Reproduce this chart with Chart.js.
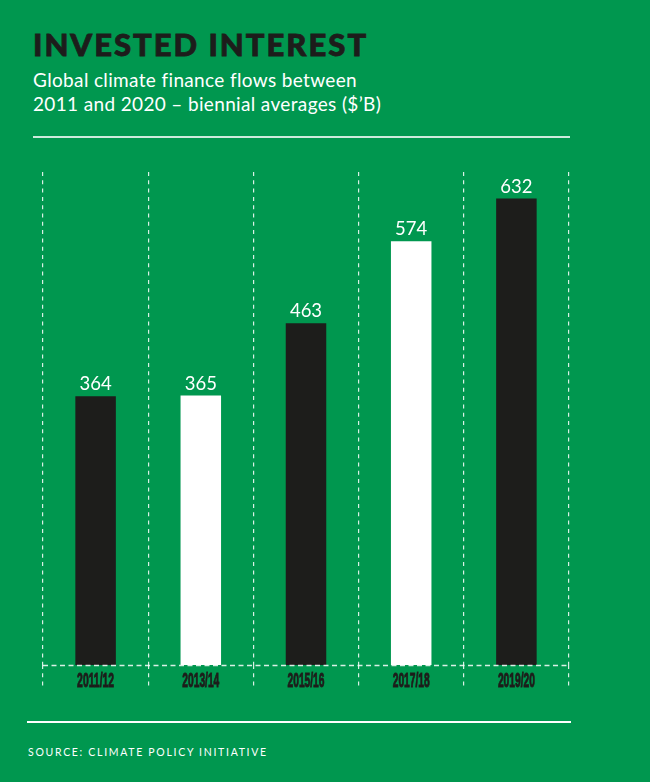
<!DOCTYPE html>
<html>
<head>
<meta charset="utf-8">
<script src="https://cdn.jsdelivr.net/npm/chart.js@4.4.1/dist/chart.umd.min.js"></script>
<style>
  html, body { margin:0; padding:0; }
  body { width:650px; height:782px; background:#00974f; position:relative; overflow:hidden; font-family: Lato, "Open Sans", sans-serif; }
  #title { position:absolute; left:33px; top:26px; font-family: Lato, sans-serif; font-weight:900; font-size:31px; color:#1d1d1b; letter-spacing:2px; line-height:36px; white-space:nowrap; -webkit-text-stroke:0.8px #1d1d1b; }
  #subtitle { position:absolute; left:33px; top:68px; font-family: Lato, sans-serif; font-weight:400; font-size:19px; color:#ffffff; line-height:24px; white-space:nowrap; letter-spacing:0.35px; }
  #rule1 { position:absolute; left:33px; top:136px; width:537px; height:1.5px; background:rgba(255,255,255,0.8); }
  #rule2 { position:absolute; left:27px; top:721px; width:544px; height:1.5px; background:#ffffff; }
  #source { position:absolute; left:28px; top:746px; font-family: Lato, sans-serif; font-size:10.5px; color:#ffffff; letter-spacing:1.7px; white-space:nowrap; }
  #wrap { position:absolute; left:0; top:150px; width:650px; height:560px; }
</style>
</head>
<body>
<div id="title">INVESTED INTEREST</div>
<div id="subtitle">Global climate finance flows between<br>2011 and 2020 – biennial averages ($’B)</div>
<div id="rule1"></div>
<div id="wrap"><canvas id="c"></canvas></div>
<div id="rule2"></div>
<div id="source">SOURCE: CLIMATE POLICY INITIATIVE</div>
<script>
const categories = ["2011/12", "2013/14", "2015/16", "2017/18", "2019/20"];
const values = [364, 365, 463, 574, 632];
const barColors = ["#1d1d1b", "#ffffff", "#1d1d1b", "#ffffff", "#1d1d1b"];
const yMax = 668;

const labelPlugin = {
  id: 'labels',
  afterDatasetsDraw(chart) {
    const ctx = chart.ctx;
    const meta = chart.getDatasetMeta(0);
    ctx.save();
    ctx.fillStyle = '#ffffff';
    ctx.font = '400 18.5px Lato, sans-serif';
    ctx.textAlign = 'center';
    ctx.textBaseline = 'alphabetic';
    meta.data.forEach((bar, i) => {
      ctx.fillText(String(values[i]), bar.x, bar.y - 6);
    });
    ctx.restore();
  },
  afterDraw(chart) {
    const ctx = chart.ctx;
    const xs = chart.scales.x;
    const ys = chart.scales.y;
    const area = chart.chartArea;
    // dashed baseline
    ctx.save();
    ctx.strokeStyle = 'rgba(255,255,255,0.85)';
    ctx.lineWidth = 1.3;
    ctx.setLineDash([5, 3.5]);
    const y0 = Math.round(ys.getPixelForValue(0)) + 0.5;
    ctx.beginPath();
    ctx.moveTo(area.left, y0);
    ctx.lineTo(area.right, y0);
    ctx.stroke();
    ctx.restore();
    // condensed category labels
    ctx.save();
    ctx.fillStyle = '#1d1d1b';
    ctx.strokeStyle = '#1d1d1b';
    ctx.lineWidth = 0.9;
    ctx.font = '700 19.5px "Liberation Sans Narrow", "Liberation Sans", sans-serif';
    ctx.textAlign = 'center';
    ctx.textBaseline = 'alphabetic';
    categories.forEach((c, i) => {
      const x = xs.getPixelForTick(i);
      const w = ctx.measureText(c).width;
      const sx = 37 / w;
      ctx.save();
      ctx.translate(x, xs.top + 22);
      ctx.scale(sx, 1);
      ctx.fillText(c, 0, 0);
      ctx.strokeText(c, 0, 0);
      ctx.restore();
    });
    ctx.restore();
  }
};

new Chart(document.getElementById('c'), {
  type: 'bar',
  data: {
    labels: categories,
    datasets: [{
      data: values,
      backgroundColor: barColors,
      borderWidth: 0,
      barPercentage: 0.385,
      categoryPercentage: 1
    }]
  },
  options: {
    responsive: true,
    maintainAspectRatio: false,
    animation: false,
    layout: { padding: { left: 43, right: 81, top: 22, bottom: 20 } },
    plugins: { legend: { display: false }, tooltip: { enabled: false } },
    scales: {
      x: {
        afterFit: (s) => { s.height = 25; },
        ticks: { display: false },
        grid: {
          display: true,
          offset: true,
          color: 'rgba(255,255,255,0.85)',
          lineWidth: 1.2,
          drawTicks: true,
          tickLength: 25,
          tickColor: 'rgba(255,255,255,0.85)',
          tickWidth: 1.2,
          tickBorderDash: [4, 4.3]
        },
        border: { display: false, dash: [4, 4.3] }
      },
      y: {
        display: false,
        min: 0,
        max: yMax
      }
    }
  },
  plugins: [labelPlugin]
});
</script>
</body>
</html>
